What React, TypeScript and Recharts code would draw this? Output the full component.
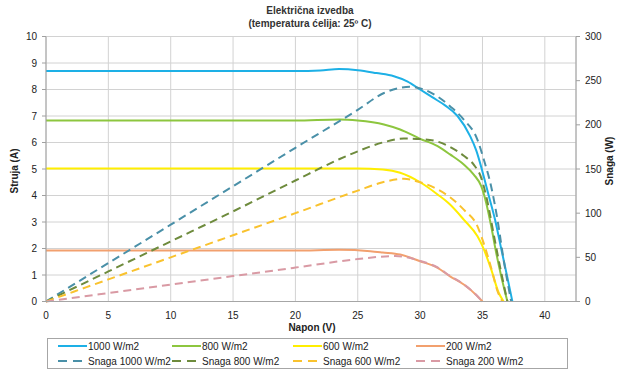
import React from 'react';
import { ComposedChart, Line, XAxis, YAxis, CartesianGrid, Label } from 'recharts';

// ---- tick labels ----
const voltageTicks = [0, 5, 10, 15, 20, 25, 30, 35, 40];
const currentTicks = [0, 1, 2, 3, 4, 5, 6, 7, 8, 9, 10];
const powerTicks = [0, 50, 100, 150, 200, 250, 300];

// ---- current (A) vs voltage (V) ----
const v1000 = [0, 5, 10, 15, 20, 22, 23.5, 25, 26.5, 27.9, 29, 30, 31, 32, 33, 34, 34.5, 35, 35.5, 36, 36.5, 37, 37.4];
const i1000 = [8.7, 8.7, 8.7, 8.7, 8.7, 8.72, 8.77, 8.73, 8.62, 8.5, 8.3, 8.0, 7.7, 7.4, 7.0, 6.25, 5.7, 4.9, 4.0, 3.1, 2.0, 0.9, 0];

const v800 = [0, 5, 10, 15, 20, 23.5, 25, 27.1, 28.4, 30, 31.4, 32.4, 33.5, 34.3, 34.9, 35.3, 35.7, 36.1, 36.5, 37.0];
const i800 = [6.83, 6.83, 6.83, 6.83, 6.83, 6.87, 6.83, 6.68, 6.49, 6.14, 5.86, 5.55, 5.17, 4.79, 4.35, 3.72, 2.84, 1.84, 0.96, 0];

const v600 = [0, 5, 10, 15, 20, 25, 27, 28.4, 30, 31.4, 32.4, 33.5, 34.6, 35, 35.7, 36.3, 36.7];
const i600 = [5.02, 5.02, 5.02, 5.02, 5.02, 5.02, 4.98, 4.86, 4.5, 4.04, 3.66, 3.09, 2.46, 2.09, 1.21, 0.33, 0];

const v200 = [0, 5, 10, 15, 20, 23.5, 26, 27, 28.4, 30, 31.4, 32.4, 33.5, 34.6, 35];
const i200 = [1.92, 1.92, 1.92, 1.92, 1.92, 1.95, 1.9, 1.85, 1.77, 1.52, 1.27, 0.95, 0.64, 0.2, 0];

// ---- power (W) vs voltage (V) ----
const pv1000 = [0, 5, 10, 15, 20, 25, 27.1, 29.2, 30.3, 31.4, 32.4, 33.5, 34.6, 35.1, 35.7, 36.2, 36.7, 37.3];
const p1000 = [0, 43.5, 87, 130.5, 174, 217, 236, 243, 240, 232, 221, 206, 183, 161, 130, 93, 47, 0];

const pv800 = [0, 5, 10, 15, 20, 23.5, 25, 27, 28.7, 30, 31.4, 32.4, 33.5, 34.3, 34.9, 35.4, 35.9, 36.5, 37.0];
const p800 = [0, 34, 68, 102, 137, 161, 170, 180, 184.5, 184, 181, 175, 165, 155, 140, 113, 76, 33, 0];

const pv600 = [0, 5, 10, 15, 20, 25, 27, 28.7, 30, 31.4, 32.4, 33.5, 34.6, 35, 35.7, 36.2, 36.6];
const p600 = [0, 25, 50, 75, 100, 125.5, 135, 139, 135, 127, 118, 104, 85, 70, 38, 12, 0];

const pv200 = [0, 5, 10, 15, 20, 25, 28, 30, 31.4, 32.4, 33.5, 34.6, 35];
const p200 = [0, 9.6, 19.2, 28.8, 38.4, 48, 51.5, 46, 38.5, 29, 19.5, 6, 0];

const zip = (xs: number[], ys: number[]) => xs.map((x, i) => ({ x, y: ys[i] }));

type S = { name: string; color: string; dashed: boolean; axis: string; data: { x: number; y: number }[] };

const series: S[] = [
  { name: '1000 W/m2', color: '#1DB0E6', dashed: false, axis: 'left', data: zip(v1000, i1000) },
  { name: '800 W/m2', color: '#8DC63F', dashed: false, axis: 'left', data: zip(v800, i800) },
  { name: '600 W/m2', color: '#FFEE00', dashed: false, axis: 'left', data: zip(v600, i600) },
  { name: '200 W/m2', color: '#F2A06E', dashed: false, axis: 'left', data: zip(v200, i200) },
  { name: 'Snaga 1000 W/m2', color: '#4A90A8', dashed: true, axis: 'right', data: zip(pv1000, p1000) },
  { name: 'Snaga 800 W/m2', color: '#6E8B3D', dashed: true, axis: 'right', data: zip(pv800, p800) },
  { name: 'Snaga 600 W/m2', color: '#F9C22E', dashed: true, axis: 'right', data: zip(pv600, p600) },
  { name: 'Snaga 200 W/m2', color: '#D99AA4', dashed: true, axis: 'right', data: zip(pv200, p200) },
];

const FONT = '"Liberation Sans", Arial, sans-serif';
const legendCols = [58, 172, 293, 416];
const TEXT = '#222';

export default function App() {
  return (
    <div style={{ position: 'absolute', left: 0, top: 0, width: 631, height: 371, background: '#fff', fontFamily: FONT }}>
      <div style={{ position: 'absolute', left: 0, width: 620, top: 4, textAlign: 'center', fontSize: 10, fontWeight: 'bold', color: '#333', lineHeight: '13px' }}>
        <div>Električna izvedba</div>
        <div>(temperatura ćelija: 25º C)</div>
      </div>
      <ComposedChart width={631} height={371} margin={{ top: 36.5, right: 0, bottom: 39.5, left: 0 }}>
        <CartesianGrid yAxisId="left" stroke="#d2d2d2" strokeWidth={1} />
        <XAxis
          dataKey="x"
          type="number"
          domain={[0, 42.5]}
          ticks={voltageTicks}
          interval={0}
          allowDataOverflow
          height={30}
          tickLine={false}
          tickMargin={4}
          axisLine={{ stroke: '#a6a6a6' }}
          tick={{ fontSize: 10, fill: TEXT, fontFamily: FONT }}
        >
          <Label
            content={() => (
              <text x={312} y={331} textAnchor="middle" fontSize={10} fontWeight="bold" fill={TEXT} fontFamily={FONT}>
                Napon (V)
              </text>
            )}
          />
        </XAxis>
        <YAxis
          yAxisId="left"
          domain={[0, 10]}
          ticks={currentTicks}
          interval={0}
          width={46}
          tickSize={4}
          tickMargin={5}
          axisLine={{ stroke: '#a0a0a0' }}
          tickLine={{ stroke: '#a0a0a0' }}
          tick={{ fontSize: 10, fill: TEXT, fontFamily: FONT }}
        >
          <Label
            content={() => (
              <text transform="translate(18,171) rotate(-90)" textAnchor="middle" fontSize={10} fontWeight="bold" fill={TEXT} fontFamily={FONT}>
                Struja (A)
              </text>
            )}
          />
        </YAxis>
        <YAxis
          yAxisId="right"
          orientation="right"
          domain={[0, 300]}
          ticks={powerTicks}
          interval={0}
          width={55}
          tickSize={4}
          tickMargin={5}
          axisLine={{ stroke: '#a0a0a0' }}
          tickLine={{ stroke: '#a0a0a0' }}
          tick={{ fontSize: 10, fill: TEXT, fontFamily: FONT }}
        >
          <Label
            content={() => (
              <text transform="translate(613,161) rotate(-90)" textAnchor="middle" fontSize={10} fontWeight="bold" fill={TEXT} fontFamily={FONT}>
                Snaga (W)
              </text>
            )}
          />
        </YAxis>
        {series.map((s) => (
          <Line
            key={s.name}
            data={s.data}
            dataKey="y"
            yAxisId={s.axis}
            type="monotone"
            stroke={s.color}
            strokeWidth={2}
            strokeDasharray={s.dashed ? '8 5' : undefined}
            dot={false}
            activeDot={false}
            isAnimationActive={false}
          />
        ))}
      </ComposedChart>
      <div style={{ position: 'absolute', left: 47, top: 338, width: 521, height: 31, border: '1px solid #a6a6a6', boxSizing: 'border-box' }} />
      {series.map((s, i) => {
        const col = i % 4;
        const row = Math.floor(i / 4);
        const x = legendCols[col];
        const y = 346 + row * 15;
        return (
          <div key={s.name} style={{ position: 'absolute', left: x, top: y - 7, height: 14, display: 'flex', alignItems: 'center', fontSize: 10, color: TEXT, whiteSpace: 'nowrap' }}>
            <svg width={29} height={6} style={{ display: 'block' }}>
              <line x1={0} y1={3} x2={29} y2={3} stroke={s.color} strokeWidth={2} strokeDasharray={s.dashed ? '9 6' : undefined} />
            </svg>
            <span style={{ marginLeft: 1 }}>{s.name}</span>
          </div>
        );
      })}
    </div>
  );
}
